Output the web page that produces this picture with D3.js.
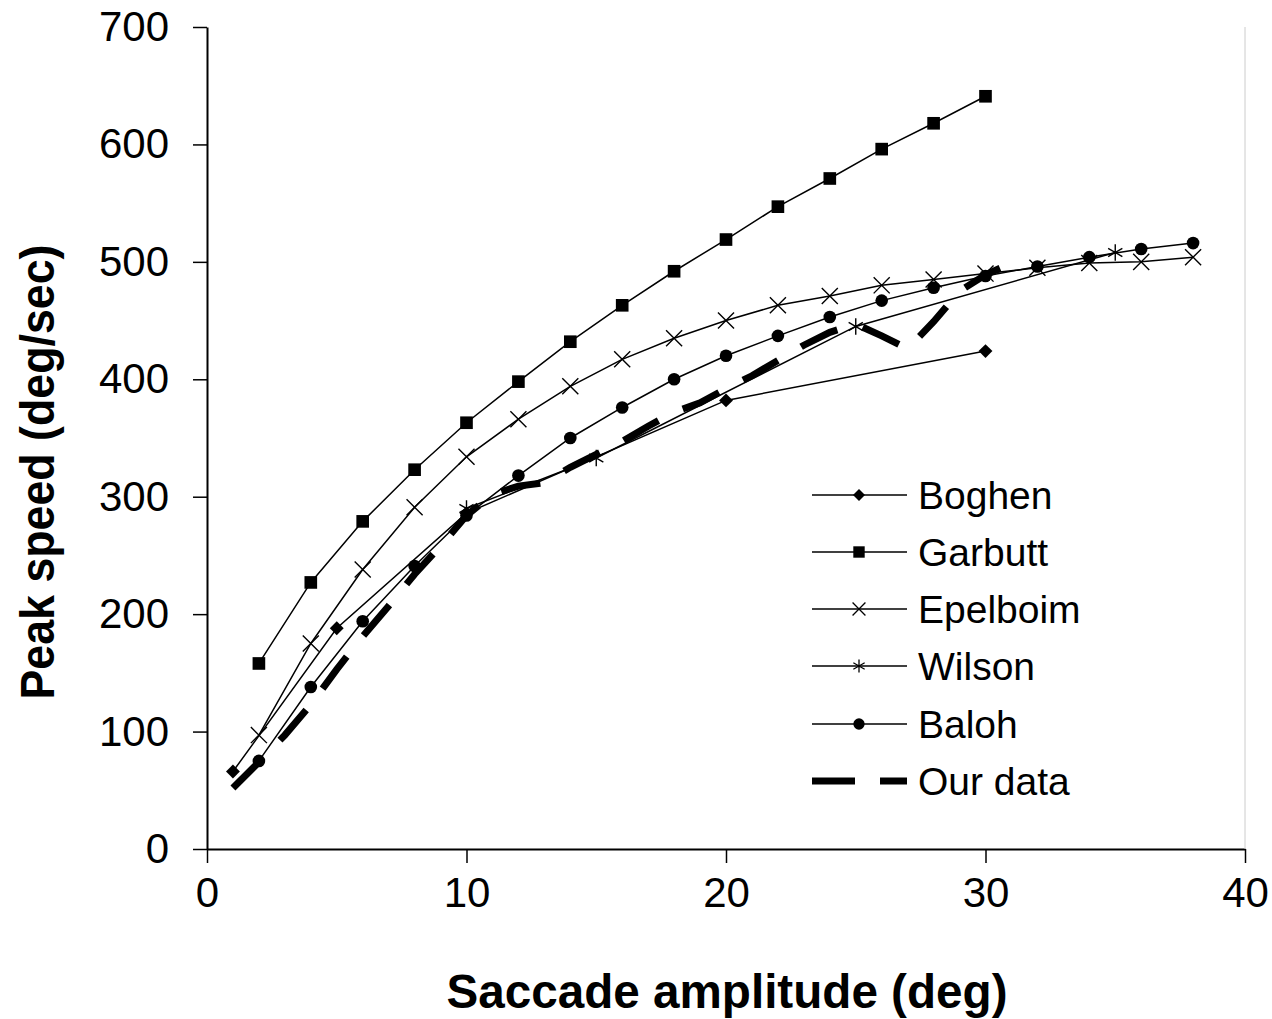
<!DOCTYPE html>
<html><head><meta charset="utf-8">
<script src="https://cdn.jsdelivr.net/npm/d3@7"></script>
<style>html,body{margin:0;padding:0;background:#fff;}</style>
</head><body>
<svg id="c" width="1272" height="1019"></svg>
<script>
const xTicks = [0, 10, 20, 30, 40];
const yTicks = [0, 100, 200, 300, 400, 500, 600, 700];
const seriesNames = ["Boghen", "Garbutt", "Epelboim", "Wilson", "Baloh", "Our data"];

const boghenX = [1, 5, 10, 20, 30];
const boghenY = [66, 188, 286, 382, 424];

const garbuttX = [2, 4, 6, 8, 10, 12, 14, 16, 18, 20, 22, 24, 26, 28, 30];
const garbuttY = [158, 227, 279, 323, 363, 398, 432, 463, 492, 519, 547, 571, 596, 618, 641];

const epelboimX = [2, 4, 6, 8, 10, 12, 14, 16, 18, 20, 22, 24, 26, 28, 30, 32, 34, 36, 38];
const epelboimY = [97, 175, 238, 291, 334, 366, 394, 417, 435, 450, 463, 471, 480, 485, 490, 495, 499, 500, 504];

const wilsonX = [10, 15, 25, 35];
const wilsonY = [290, 333, 445, 508];

const balohX = [2, 4, 6, 8, 10, 12, 14, 16, 18, 20, 22, 24, 26, 28, 30, 32, 34, 36, 38];
const balohY = [75, 138, 194, 241, 284, 318, 350, 376, 400, 420, 437, 453, 467, 478, 488, 496, 504, 511, 516];

const ourX = [1, 2, 3, 4, 5, 6, 7, 8, 9, 10, 11, 12, 13, 14, 15, 16, 17, 18, 19, 20, 21, 22, 23, 24, 25, 26, 27, 28, 29, 30, 31];
const ourY = [52, 74, 97, 123, 153, 181, 207, 234, 258, 284, 302, 309, 312, 325, 336, 347, 360, 372, 380, 392, 403, 416, 429, 440, 447, 437, 426, 449, 475, 489, 499];

const svg = d3.select("#c");
const font = "'Liberation Sans', Arial, sans-serif";
const x = d3.scaleLinear().domain([0, 40]).range([207, 1245]);
const y = d3.scaleLinear().domain([0, 700]).range([849, 27]);

// axes
const xAxis = svg.append("g").attr("transform", "translate(0,849)")
  .call(d3.axisBottom(x).tickValues(xTicks).tickSize(14).tickPadding(14).tickSizeOuter(0));
const yAxis = svg.append("g").attr("transform", "translate(207,0)")
  .call(d3.axisLeft(y).tickValues(yTicks).tickSize(14).tickPadding(24).tickSizeOuter(0));
[xAxis, yAxis].forEach(g => {
  g.selectAll("path.domain").attr("stroke", "#000").attr("stroke-width", 2);
  g.selectAll(".tick line").attr("stroke", "#000").attr("stroke-width", 1.5);
  g.selectAll("text").attr("font-family", font).attr("font-size", 42).attr("fill", "#000");
});
// right edge line
svg.append("line").attr("x1", x(40)).attr("x2", x(40)).attr("y1", y(700)).attr("y2", y(0))
  .attr("stroke", "#ccc").attr("stroke-width", 1);

// titles
svg.append("text").attr("x", 727).attr("y", 1008).attr("text-anchor", "middle")
  .attr("font-family", "'Liberation Sans Narrow', " + font).attr("font-weight", "bold").attr("font-size", 48)
  .attr("textLength", 561).attr("lengthAdjust", "spacingAndGlyphs")
  .text("Saccade amplitude (deg)");
svg.append("text").attr("transform", "translate(54,472) rotate(-90)").attr("text-anchor", "middle")
  .attr("font-family", "'Liberation Sans Narrow', " + font).attr("font-weight", "bold").attr("font-size", 48)
  .attr("textLength", 455).attr("lengthAdjust", "spacingAndGlyphs")
  .text("Peak speed (deg/sec)");

const line = d3.line().x(d => x(d[0])).y(d => y(d[1]));
const zip = (a, b) => a.map((v, i) => [v, b[i]]);

const diamond = d3.symbol().type(d3.symbolSquare).size(96)();
const square = d3.symbol().type(d3.symbolSquare).size(160)();
const circle = d3.symbol().type(d3.symbolCircle).size(125)();
const times = d3.symbol().type(d3.symbolTimes).size(170)();
const aster = d3.symbol().type(d3.symbolAsterisk).size(190)();

const series = [
  {name: seriesNames[0], data: zip(boghenX, boghenY), sym: diamond, rot: 45, fill: true},
  {name: seriesNames[1], data: zip(garbuttX, garbuttY), sym: square, rot: 0, fill: true},
  {name: seriesNames[2], data: zip(epelboimX, epelboimY), sym: times, rot: 0, fill: false},
  {name: seriesNames[3], data: zip(wilsonX, wilsonY), sym: aster, rot: 0, fill: false},
  {name: seriesNames[4], data: zip(balohX, balohY), sym: circle, rot: 0, fill: true},
];

series.forEach(s => {
  svg.append("path").datum(s.data).attr("d", line).attr("fill", "none")
    .attr("stroke", "#000").attr("stroke-width", 1.5);
});
series.forEach(s => {
  svg.append("g").selectAll("path").data(s.data).join("path")
    .attr("d", s.sym)
    .attr("transform", d => `translate(${x(d[0])},${y(d[1])}) rotate(${s.rot})`)
    .attr("fill", s.fill ? "#000" : "none")
    .attr("stroke", "#000").attr("stroke-width", s.fill ? 0 : 1.4);
});
// our data dashed
svg.append("path").datum(zip(ourX, ourY)).attr("d", line).attr("fill", "none")
  .attr("stroke", "#000").attr("stroke-width", 7).attr("stroke-dasharray", "40,27")
  .attr("stroke-linejoin", "miter");

// legend
const legY = [495, 552, 609, 666, 724, 781];
const legSym = [d3.symbolSquare, d3.symbolSquare, d3.symbolTimes, d3.symbolAsterisk, d3.symbolCircle];
const legSize = [72, 130, 110, 120, 100];
const lg = svg.append("g");
seriesNames.forEach((n, i) => {
  const yy = legY[i];
  if (i < 5) {
    const s = series[i];
    lg.append("line").attr("x1", 812).attr("x2", 907).attr("y1", yy).attr("y2", yy)
      .attr("stroke", "#000").attr("stroke-width", 1.5);
    const sym = d3.symbol().type(legSym[i]).size(legSize[i])();
    lg.append("path").attr("d", sym).attr("transform", `translate(859,${yy}) rotate(${s.rot})`)
      .attr("fill", s.fill ? "#000" : "none").attr("stroke", "#000").attr("stroke-width", s.fill ? 0 : 1.3);
  } else {
    lg.append("line").attr("x1", 812).attr("x2", 907).attr("y1", yy).attr("y2", yy)
      .attr("stroke", "#000").attr("stroke-width", 7).attr("stroke-dasharray", "43,25");
  }
  lg.append("text").attr("x", 918).attr("y", yy + 14).attr("font-family", font).attr("font-size", 39)
    .attr("fill", "#000").text(n);
});
</script>
</body></html>
